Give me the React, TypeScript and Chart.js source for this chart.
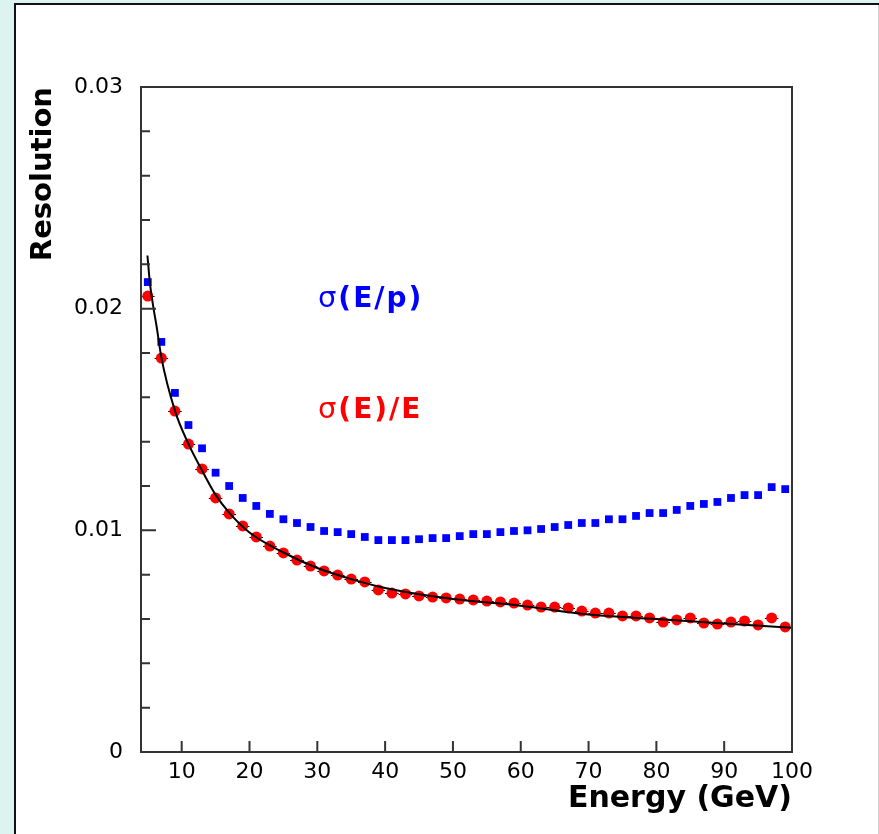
import { useEffect, useRef } from "react";
import { Chart, registerables } from "chart.js";
Chart.register(...registerables);

// Beam energy (GeV) of each measurement
const ENERGY = [5, 7, 9, 11, 13, 15, 17, 19, 21, 23, 25, 27, 29, 31, 33, 35, 37, 39, 41, 43, 45, 47, 49, 51,
  53, 55, 57, 59, 61, 63, 65, 67, 69, 71, 73, 75, 77, 79, 81, 83, 85, 87, 89, 91, 93, 95, 97, 99];

// sigma(E/p)
const SIGMA_EP = [0.0212, 0.0185, 0.0162, 0.01475, 0.0137, 0.0126, 0.0120, 0.01146, 0.0111, 0.01074, 0.0105, 0.01033,
  0.01015, 0.00997, 0.00992, 0.00983, 0.0097, 0.00956, 0.00956, 0.00956, 0.0096, 0.00965, 0.00965, 0.00974,
  0.00983, 0.00983, 0.00992, 0.00997, 0.0100, 0.01006, 0.01015, 0.01024, 0.01033, 0.01033, 0.0105, 0.0105,
  0.01065, 0.01078, 0.01078, 0.01092, 0.0111, 0.01119, 0.01128, 0.01146, 0.01159, 0.01159, 0.01195, 0.01186];

// sigma(E)/E
const SIGMA_E_OVER_E = [0.02057, 0.01777, 0.01538, 0.01389, 0.01277, 0.01146, 0.01074, 0.0102, 0.0097, 0.00929, 0.00898, 0.00866,
  0.00839, 0.00817, 0.00798, 0.0078, 0.00767, 0.00731, 0.00717, 0.00713, 0.00704, 0.00699, 0.00695, 0.0069,
  0.00686, 0.00681, 0.00677, 0.00672, 0.00663, 0.00654, 0.00654, 0.0065, 0.00636, 0.00627, 0.00627, 0.00614,
  0.00614, 0.00605, 0.00586, 0.00596, 0.00605, 0.00582, 0.00577, 0.00586, 0.00591, 0.00573, 0.00605, 0.00564];

// Energy bin half-width for the horizontal error bars (GeV)
const ENERGY_HALF_BIN = 1;

// Fit curve
const FIT_ENERGY = [4.95, 5.3, 5.8, 6.3, 7, 9, 11, 13, 15, 17, 20, 25, 30, 35, 40, 50, 60, 70, 80, 90, 100];
const FIT_VALUE = [0.0224, 0.0212, 0.0201, 0.0192, 0.0178, 0.0154, 0.0139, 0.0127, 0.0116, 0.0108, 0.0099, 0.0090,
  0.0083, 0.0078, 0.0074, 0.0069, 0.0066, 0.0062, 0.0060, 0.0058, 0.0056];

const X_MIN = 4;
const X_MAX = 100;
const X_TICKS = [10, 20, 30, 40, 50, 60, 70, 80, 90, 100];
const X_TICK_LABELS = ["10", "20", "30", "40", "50", "60", "70", "80", "90", "100"];
const Y_MIN = 0;
const Y_MAX = 0.03;
const Y_TICKS = [0, 0.01, 0.02, 0.03];
const Y_TICK_LABELS = ["0", "0.01", "0.02", "0.03"];
const Y_MINOR_TICKS = [0.002, 0.004, 0.006, 0.008, 0.012, 0.014, 0.016, 0.018, 0.022, 0.024, 0.026, 0.028];

const LABEL_EP = { sigma: "σ", rest: "(E/p)", color: "#0000ff" };
const LABEL_EE = { sigma: "σ", rest: "(E)/E", color: "#ff0000" };

const W = 879;
const H = 834;

const decorPlugin = {
  id: "decor",
  beforeDraw(chart: any) {
    const ctx = chart.ctx;
    ctx.save();
    ctx.fillStyle = "#dcf3ef";
    ctx.fillRect(0, 0, W, H);
    ctx.fillStyle = "#ffffff";
    ctx.fillRect(15, 4, W - 16, H - 4);
    ctx.fillStyle = "#111";
    ctx.fillRect(14, 3, W - 14, 2);
    ctx.fillRect(14, 3, 2, H - 3);
    ctx.fillStyle = "#cfcfcf";
    ctx.fillRect(W - 1, 5, 1, H - 5);
    ctx.restore();
  },
  beforeDatasetsDraw(chart: any) {
    // horizontal error bars on sigma(E)/E
    const ctx = chart.ctx;
    const xs = chart.scales.x;
    const ys = chart.scales.y;
    ctx.save();
    ctx.strokeStyle = "#000";
    ctx.lineWidth = 1;
    ctx.beginPath();
    ENERGY.forEach((e, i) => {
      const y = Math.round(ys.getPixelForValue(SIGMA_E_OVER_E[i])) + 0.5;
      ctx.moveTo(xs.getPixelForValue(e - ENERGY_HALF_BIN), y);
      ctx.lineTo(xs.getPixelForValue(e + ENERGY_HALF_BIN), y);
    });
    ctx.stroke();
    ctx.restore();
  },
  afterDraw(chart: any) {
    const ctx = chart.ctx;
    const a = chart.chartArea;
    const xs = chart.scales.x;
    const ys = chart.scales.y;
    ctx.save();
    ctx.strokeStyle = "#333";
    ctx.lineWidth = 2;
    ctx.strokeRect(a.left, a.top, a.right - a.left, a.bottom - a.top);
    ctx.beginPath();
    Y_TICKS.forEach((v) => {
      const y = ys.getPixelForValue(v);
      ctx.moveTo(a.left, y);
      ctx.lineTo(a.left + 15, y);
    });
    Y_MINOR_TICKS.forEach((v) => {
      const y = ys.getPixelForValue(v);
      ctx.moveTo(a.left, y);
      ctx.lineTo(a.left + 9, y);
    });
    X_TICKS.forEach((v) => {
      const x = xs.getPixelForValue(v);
      ctx.moveTo(x, a.bottom);
      ctx.lineTo(x, a.bottom - 11);
    });
    ctx.stroke();

    // in-plot labels
    const drawLabel = (lab: any, value: number) => {
      let x = xs.getPixelForValue(30.1);
      const y = ys.getPixelForValue(value);
      ctx.fillStyle = lab.color;
      ctx.textBaseline = "alphabetic";
      ctx.textAlign = "left";
      (ctx as any).letterSpacing = "2px";
      ctx.font = '29px "DejaVu Sans"';
      ctx.fillText(lab.sigma, x, y);
      x += ctx.measureText(lab.sigma).width;
      ctx.font = 'bold 28px "DejaVu Sans"';
      ctx.fillText(lab.rest, x, y);
      (ctx as any).letterSpacing = "0px";
    };
    drawLabel(LABEL_EP, 0.02007);
    drawLabel(LABEL_EE, 0.01507);
    ctx.restore();
  },
};

export default function App() {
  const ref = useRef<HTMLCanvasElement>(null);
  useEffect(() => {
    if (!ref.current) return;
    const chart = new Chart(ref.current, {
      type: "scatter",
      data: {
        datasets: [
          {
            type: "line",
            label: "fit",
            data: FIT_ENERGY.map((e, i) => ({ x: e, y: FIT_VALUE[i] })),
            borderColor: "#000",
            borderWidth: 2,
            pointRadius: 0,
            cubicInterpolationMode: "monotone",
            fill: false,
            order: 0,
          } as any,
          {
            label: "σ(E)/E",
            data: ENERGY.map((e, i) => ({ x: e, y: SIGMA_E_OVER_E[i] })),
            backgroundColor: "#ff0000",
            borderColor: "#ff0000",
            pointStyle: "circle",
            pointRadius: 5.5,
            borderWidth: 0,
            order: 1,
          },
          {
            label: "σ(E/p)",
            data: ENERGY.map((e, i) => ({ x: e, y: SIGMA_EP[i] })),
            backgroundColor: "#0000ff",
            borderColor: "#0000ff",
            pointStyle: "rect",
            pointRadius: 5.5,
            borderWidth: 0,
            order: 2,
          },
        ],
      },
      options: {
        animation: false,
        responsive: false,
        devicePixelRatio: 1,
        layout: { padding: { left: 0, top: 87, right: 87, bottom: 0 } },
        plugins: { legend: { display: false }, tooltip: { enabled: false } },
        scales: {
          x: {
            type: "linear",
            min: X_MIN,
            max: X_MAX,
            grid: { display: false, drawTicks: false },
            border: { display: false },
            afterBuildTicks: (s: any) => {
              s.ticks = X_TICKS.map((v) => ({ value: v }));
            },
            afterFit: (s: any) => {
              s.height = 82;
            },
            ticks: {
              padding: 7,
              maxRotation: 0,
              autoSkip: false,
              color: "#000",
              font: { family: "DejaVu Sans", size: 22 },
              callback: (v: any) => X_TICK_LABELS[X_TICKS.indexOf(Number(v))] ?? "",
            },
            title: {
              display: true,
              text: "Energy (GeV)",
              align: "end",
              color: "#000",
              font: { family: "DejaVu Sans", size: 30, weight: "bold" },
              padding: { top: 0, bottom: 17 },
            },
          },
          y: {
            type: "linear",
            min: Y_MIN,
            max: Y_MAX,
            grid: { display: false, drawTicks: false },
            border: { display: false },
            afterBuildTicks: (s: any) => {
              s.ticks = Y_TICKS.map((v) => ({ value: v }));
            },
            afterFit: (s: any) => {
              s.width = 141;
            },
            ticks: {
              padding: 18,
              autoSkip: false,
              color: "#000",
              font: { family: "DejaVu Sans", size: 22 },
              callback: (v: any) => {
                const i = Y_TICKS.findIndex((t) => Math.abs(t - Number(v)) < 1e-9);
                return i >= 0 ? Y_TICK_LABELS[i] : "";
              },
            },
            title: {
              display: true,
              text: "Resolution",
              align: "end",
              color: "#000",
              font: { family: "DejaVu Sans", size: 29, weight: "bold" },
              padding: { top: 26, bottom: 0 },
            },
          },
        },
      },
      plugins: [decorPlugin],
    });
    return () => chart.destroy();
  }, []);
  return (
    <div style={{ position: "absolute", left: 0, top: 0, width: W, height: H }}>
      <canvas ref={ref} width={W} height={H} style={{ display: "block", width: W, height: H }} />
    </div>
  );
}
